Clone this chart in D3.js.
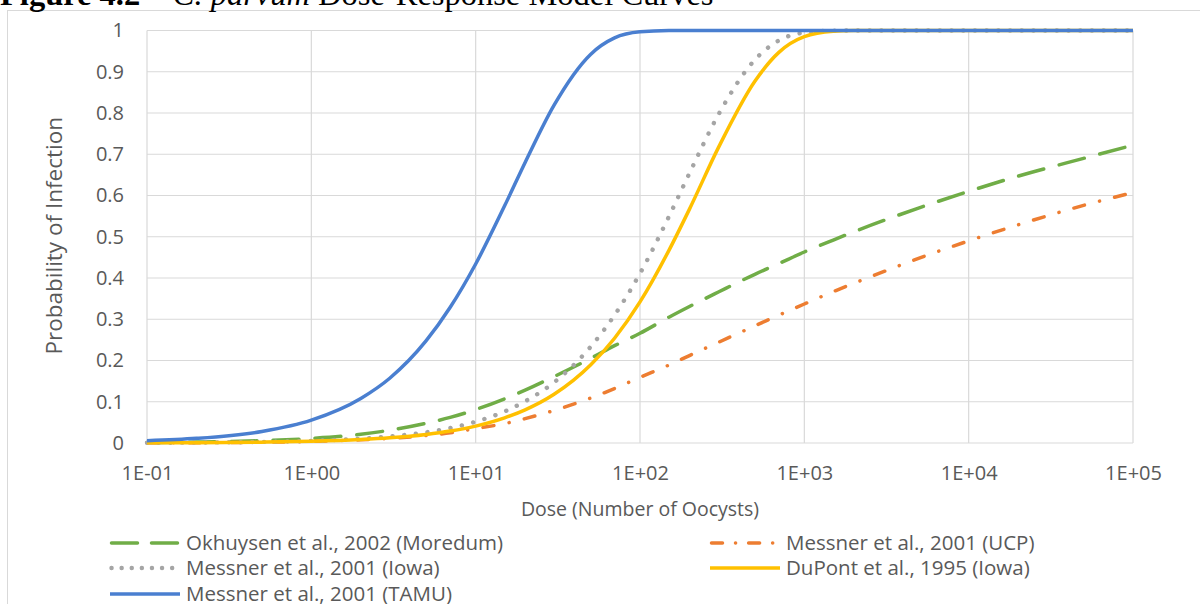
<!DOCTYPE html>
<html>
<head>
<meta charset="utf-8">
<script src="https://cdn.jsdelivr.net/npm/d3@7"></script>
<style>
  body { margin: 0; background: #fff; }
  svg { display: block; }
</style>
</head>
<body>
<div id="viz"></div>
<script>
const width = 1200;
const height = 604;
const margin = {top: 30.5, right: 67, bottom: 161, left: 147};

const doses = [0.1, 0.2, 0.5, 1, 2, 3, 5, 7, 10, 15, 20, 30, 50, 70, 100, 150, 200, 300,
  500, 700, 1000, 1500, 2000, 5000, 10000, 20000, 50000, 100000];

// Probability of infection per model, same order as doses
const okhuysenMoredum = [0.0012, 0.0023, 0.0057, 0.011, 0.021, 0.031, 0.048, 0.062, 0.081, 0.107,
  0.128, 0.161, 0.205, 0.236, 0.266, 0.305, 0.331, 0.366, 0.409, 0.435, 0.463, 0.492, 0.512,
  0.570, 0.610, 0.647, 0.690, 0.722];
const messnerUCP = [0.0004, 0.0008, 0.002, 0.0039, 0.0077, 0.0113, 0.0182, 0.0247, 0.035, 0.047,
  0.059, 0.079, 0.109, 0.132, 0.159, 0.189, 0.212, 0.244, 0.284, 0.31, 0.337, 0.367, 0.387,
  0.448, 0.490, 0.529, 0.576, 0.607];
const messnerIowa = [0.0005, 0.0011, 0.0026, 0.0053, 0.0105, 0.0158, 0.026, 0.0364, 0.0516, 0.0765,
  0.101, 0.147, 0.233, 0.31, 0.411, 0.549, 0.654, 0.796, 0.929, 0.976, 0.995, 0.9996, 1,
  1, 1, 1, 1, 1];
const dupontIowa = [0.0004, 0.0008, 0.0021, 0.0042, 0.0084, 0.0125, 0.0207, 0.0289, 0.041, 0.0609,
  0.0803, 0.118, 0.189, 0.254, 0.342, 0.467, 0.567, 0.716, 0.877, 0.947, 0.985, 0.998, 0.9998,
  1, 1, 1, 1, 1];
const messnerTAMU = [0.0057, 0.0113, 0.028, 0.0554, 0.108, 0.157, 0.248, 0.329, 0.434, 0.575,
  0.68, 0.819, 0.942, 0.982, 0.9967, 0.9998, 1, 1, 1, 1, 1, 1, 1,
  1, 1, 1, 1, 1];

const seriesNames = [
  'Okhuysen et al., 2002 (Moredum)',
  'Messner et al., 2001 (UCP)',
  'Messner et al., 2001 (Iowa)',
  'DuPont et al., 1995 (Iowa)',
  'Messner et al., 2001 (TAMU)'
];

const xTicks = [0.1, 1, 10, 100, 1000, 10000, 100000];
const xTickLabels = ['1E-01', '1E+00', '1E+01', '1E+02', '1E+03', '1E+04', '1E+05'];
const yTicks = [0, 0.1, 0.2, 0.3, 0.4, 0.5, 0.6, 0.7, 0.8, 0.9, 1];
const yTickLabels = ['0', '0.1', '0.2', '0.3', '0.4', '0.5', '0.6', '0.7', '0.8', '0.9', '1'];

// Line styles (Excel-ish)
const styles = [
  {color: '#70ad47', dash: '26 16', w: 3.5},
  {color: '#ed7d31', dash: '11 15.5 0.1 15.5', w: 3.5},
  {color: '#a5a5a5', dash: '0.1 11.6', w: 4.4},
  {color: '#ffc000', dash: null, w: 3.5},
  {color: '#4a7fd0', dash: null, w: 3.5}
];
const legendDash = ['26 14', '11 13 0.1 13', '0.1 10', null, null];

const series = [okhuysenMoredum, messnerUCP, messnerIowa, dupontIowa, messnerTAMU]
  .map((vals, i) => ({
    name: seriesNames[i],
    style: styles[i],
    legendDash: legendDash[i],
    points: doses.map((d, j) => ({dose: d, p: vals[j]}))
  }));

const font = '"Open Sans", "Liberation Sans", sans-serif';
const textColor = '#595959';
const gridColor = '#d9d9d9';

const svg = d3.select('#viz')
  .append('svg')
    .attr('width', width)
    .attr('height', height)
    .attr('viewBox', [0, 0, width, height]);

// Chart area border (runs off the page right and bottom)
svg.append('rect')
  .attr('x', 7.5)
  .attr('y', 10.5)
  .attr('width', 1300)
  .attr('height', 800)
  .attr('fill', '#fff')
  .attr('stroke', gridColor);

// Caption, clipped by the top of the page
const title = svg.append('text')
  .attr('x', 0)
  .attr('y', 5)
  .style('font-family', '"Liberation Serif", "DejaVu Serif", serif')
  .style('font-size', '32.5px')
  .attr('fill', '#000');
title.append('tspan').style('font-weight', 'bold').text('Figure 4.2 – ');
title.append('tspan').style('font-style', 'italic').text('C. parvum');
title.append('tspan').text(' Dose-Response Model Curves');

// Scales
const xScale = d3.scaleLog()
  .domain([0.1, 100000])
  .range([margin.left, width - margin.right]);
const yScale = d3.scaleLinear()
  .domain([0, 1])
  .range([height - margin.bottom, margin.top]);

// Gridlines
const grid = svg.append('g').attr('class', 'grid').attr('stroke', gridColor).attr('stroke-width', 1.2);
grid.selectAll('.v')
  .data(xTicks)
  .join('line')
    .attr('class', 'v')
    .attr('x1', d => xScale(d))
    .attr('x2', d => xScale(d))
    .attr('y1', yScale(1))
    .attr('y2', yScale(0));
grid.selectAll('.h')
  .data(yTicks)
  .join('line')
    .attr('class', 'h')
    .attr('x1', xScale(0.1))
    .attr('x2', xScale(100000))
    .attr('y1', d => yScale(d))
    .attr('y2', d => yScale(d));

// Axes
const xAxis = d3.axisBottom(xScale)
  .tickValues(xTicks)
  .tickFormat((d, i) => xTickLabels[i])
  .tickSize(0)
  .tickPadding(23);
const xAxisGroup = svg.append('g')
  .attr('class', 'x-axis-group')
  .attr('transform', `translate(0,${yScale(0)})`)
  .call(xAxis);

const yAxis = d3.axisLeft(yScale)
  .tickValues(yTicks)
  .tickFormat((d, i) => yTickLabels[i])
  .tickSize(0)
  .tickPadding(23);
const yAxisGroup = svg.append('g')
  .attr('class', 'y-axis-group')
  .attr('transform', `translate(${xScale(0.1)},0)`)
  .call(yAxis);

[xAxisGroup, yAxisGroup].forEach(g => {
  g.select('.domain').remove();
  g.selectAll('text')
    .attr('fill', textColor)
    .style('font-family', font)
    .style('font-size', '20px');
});

// Axis titles
svg.append('text')
  .attr('x', (xScale(0.1) + xScale(100000)) / 2)
  .attr('y', 516)
  .attr('text-anchor', 'middle')
  .attr('fill', textColor)
  .style('font-family', font)
  .style('font-size', '19.5px')
  .text('Dose (Number of Oocysts)');

svg.append('text')
  .attr('transform', `translate(62,${(yScale(0) + yScale(1)) / 2 - 1}) rotate(-90)`)
  .attr('text-anchor', 'middle')
  .attr('fill', textColor)
  .style('font-family', font)
  .style('font-size', '22.5px')
  .text('Probability of Infection');

// Curves
const line = d3.line()
  .x(d => xScale(d.dose))
  .y(d => yScale(d.p))
  .curve(d3.curveMonotoneX);

svg.append('g')
  .attr('class', 'curve-group')
  .selectAll('path')
  .data(series)
  .join('path')
    .attr('d', d => line(d.points))
    .attr('fill', 'none')
    .attr('stroke', d => d.style.color)
    .attr('stroke-width', d => d.style.w)
    .attr('stroke-linecap', d => d.style.dash ? 'round' : 'butt')
    .attr('stroke-dasharray', d => d.style.dash);

// Legend: two columns, filled row by row
const legendRows = [543, 568, 594];
const legendCols = [110, 710];
const legend = svg.append('g')
  .attr('class', 'legend')
  .selectAll('g')
  .data(series)
  .join('g')
    .attr('transform', (d, i) => `translate(${legendCols[i % 2]},${legendRows[Math.floor(i / 2)]})`);

legend.append('line')
  .attr('x1', d => d.legendDash ? 1.5 : 0)
  .attr('x2', 70)
  .attr('stroke', d => d.style.color)
  .attr('stroke-width', d => d.style.w)
  .attr('stroke-linecap', d => d.legendDash ? 'round' : 'butt')
  .attr('stroke-dasharray', d => d.legendDash);

legend.append('text')
  .attr('x', 76)
  .attr('dy', '0.35em')
  .attr('fill', textColor)
  .style('font-family', font)
  .style('font-size', '20.5px')
  .text(d => d.name);
</script>
</body>
</html>
